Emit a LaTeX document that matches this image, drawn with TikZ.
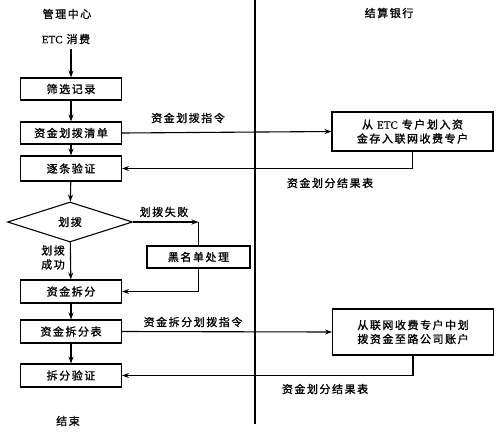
\documentclass[tikz,border=0pt]{standalone}
\usepackage{fontspec}
\newfontfamily\cjk[LetterSpace=14,FakeBold=1.2]{Noto Sans CJK SC}
\newfontfamily\lat[FakeBold=0.6]{Liberation Serif}
\usetikzlibrary{shapes.geometric,arrows.meta}
\begin{document}
\begin{tikzpicture}[x=1pt,y=-1pt,
  every node/.style={font=\cjk\fontsize{11}{14}\selectfont},
  box/.style={draw,line width=1.1pt,minimum width=101pt,minimum height=22pt,inner sep=0pt,fill=white},
  rbox/.style={draw,line width=1.1pt,minimum width=161pt,inner sep=0pt,align=center,fill=white},
  lbl/.style={inner sep=1pt},
  ln/.style={line width=1.1pt},
  arr/.style={line width=1.1pt,-{Stealth[length=7pt,width=5pt]}}]
\useasboundingbox (0,0) rectangle (500,432);
\fill[white] (0,0) rectangle (500,432);
% divider
\coordinate (dtop) at (255,0);
\coordinate (dbot) at (255,424);
\draw[line width=1.1pt] (dtop) -- (dbot);
% headers
\node[lbl] (hl) at (67,14) {管理中心};
\node[lbl] (hr) at (389,13) {结算银行};
\node[lbl] (etc) at (66,39) {{\lat ETC} 消费};
\node[lbl] (end) at (68,421) {结束};
% left boxes
\node[box] (b1) at (71,89) {筛选记录};
\node[box] (b2) at (71,133) {资金划拨清单};
\node[box,minimum height=25pt] (b3) at (71,168.5) {逐条验证};
\node[draw,line width=1.1pt,diamond,aspect=3.1,minimum width=125pt,minimum height=40pt,inner sep=0pt] (dia) at (70,222) {划拨};
\node[box,minimum height=23pt] (b4) at (71,291.5) {资金拆分};
\node[box,minimum height=23pt] (b5) at (71,331.5) {资金拆分表};
\node[box,minimum height=23pt] (b6) at (71,375.5) {拆分验证};
\node[box,minimum width=103pt] (bl) at (198.5,257) {黑名单处理};
% right boxes
\node[rbox,minimum height=39pt] (r1) at (412.5,131.5) {从 {\lat ETC} 专户划入资\\金存入联网收费专户};
\node[rbox,minimum height=46pt] (r2) at (413,332) {从联网收费专户中划\\拨资金至路公司账户};
% vertical flow
\draw[arr] (b1.north |- etc.south) ++(0,4) -- (b1.north);
\draw[arr] (b1) -- (b2);
\draw[arr] (b2) -- (b3);
\draw[arr] (b3) -- (dia);
\draw[arr] (dia) -- (b4);
\draw[arr] (b4) -- (b5);
\draw[arr] (b5) -- (b6);
\node[lbl,align=center] (succ) at (53,257.5) {划拨\\成功};
% to bank and back
\draw[arr] (b2.east) -- (r1.west);
\node[lbl] (l1) at (188,118) {资金划拨指令};
\draw[arr] (r1.south) -- (r1.south |- b3.east) -- (b3.east);
\node[lbl] (l2) at (330,183) {资金划分结果表};
\draw[arr] (b5.east) -- (r2.west);
\node[lbl] (l3) at (193,322) {资金拆分划拨指令};
\draw[arr] (r2.south) -- (r2.south |- b6.east) -- (b6.east);
\node[lbl] (l4) at (325,389) {资金划分结果表};
% failure branch
\coordinate (f1) at (bl.north |- dia.east);
\draw[arr] (dia.east) -- (f1);
\draw[ln] (f1) -- (bl.north);
\draw[arr] (bl.south) -- (bl.south |- b4.east) -- (b4.east);
\node[lbl] (l5) at (164,212) {划拨失败};
\end{tikzpicture}
\end{document}
